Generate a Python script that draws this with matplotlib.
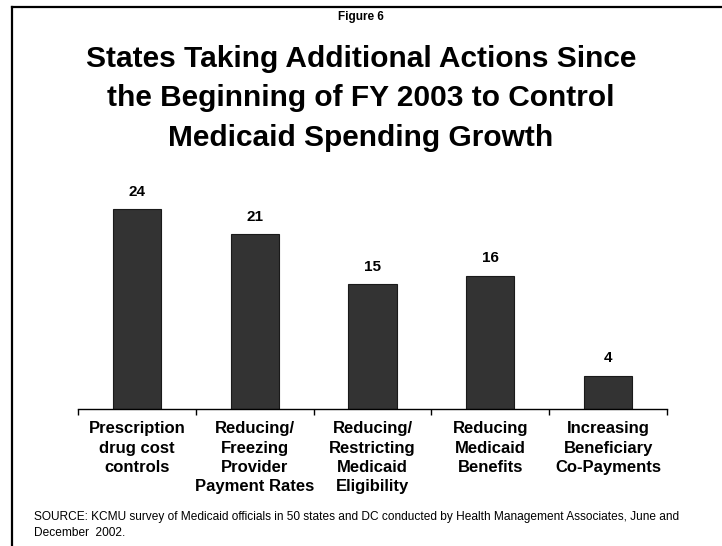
import numpy as np
import matplotlib.pyplot as plt
from matplotlib.lines import Line2D

plt.rcParams['font.family'] = ['Liberation Sans', 'DejaVu Sans']

categories = [
    "Prescription\ndrug cost\ncontrols",
    "Reducing/\nFreezing\nProvider\nPayment Rates",
    "Reducing/\nRestricting\nMedicaid\nEligibility",
    "Reducing\nMedicaid\nBenefits",
    "Increasing\nBeneficiary\nCo-Payments",
]
states = [24, 21, 15, 16, 4]
title_lines = [
    "States Taking Additional Actions Since",
    "the Beginning of FY 2003 to Control",
    "Medicaid Spending Growth",
]
source_lines = [
    "SOURCE: KCMU survey of Medicaid officials in 50 states and DC conducted by "
    "Health Management Associates, June and",
    "December  2002.",
]

W, H = 722, 546
fig = plt.figure(figsize=(W / 100, H / 100), dpi=100)
fig.patch.set_facecolor('white')

# frame lines at top and left
fig.add_artist(Line2D([12 / W, 1.0], [1 - 7 / H, 1 - 7 / H], color='black', lw=1.6))
fig.add_artist(Line2D([12 / W, 12 / W], [1 - 7 / H, 0.0], color='black', lw=1.6))

fig.text(0.5, 1 - 20 / H, "Figure 6", ha='center', va='baseline',
         fontsize=8.5, fontweight='bold')
for i, line in enumerate(title_lines):
    fig.text(0.5, 1 - (67 + 39.5 * i) / H, line, ha='center', va='baseline',
             fontsize=21.5, fontweight='bold')

ax = fig.add_axes([78 / W, 1 - 409 / H, (667 - 78) / W, (409 - 159) / H])
x = np.arange(len(states))
ax.bar(x, states, width=0.41, color='#333333', edgecolor='#1a1a1a', linewidth=0.8)
for xi, v in zip(x, states):
    ax.text(xi, v + 1.25, str(v), ha='center', va='bottom', fontsize=11, fontweight='bold')

ax.set_xlim(-0.5, len(states) - 0.5)
ax.set_ylim(0, 30)
for s in ['top', 'right', 'left']:
    ax.spines[s].set_visible(False)
ax.spines['bottom'].set_linewidth(1.0)
ax.set_yticks([])
ax.set_xticks(x)
ax.set_xticklabels(categories, fontsize=12, fontweight='bold', linespacing=1.35, va='top')
ax.tick_params(axis='x', which='major', length=0, pad=9)
ax.set_xticks(np.arange(-0.5, len(states), 1.0), minor=True)
ax.tick_params(axis='x', which='minor', direction='out', length=4, width=1.0)

for i, line in enumerate(source_lines):
    fig.text(34 / W, 1 - (520 + 16 * i) / H, line, ha='left', va='baseline', fontsize=8.6)

fig.savefig('out.png', dpi=100, facecolor='white')
